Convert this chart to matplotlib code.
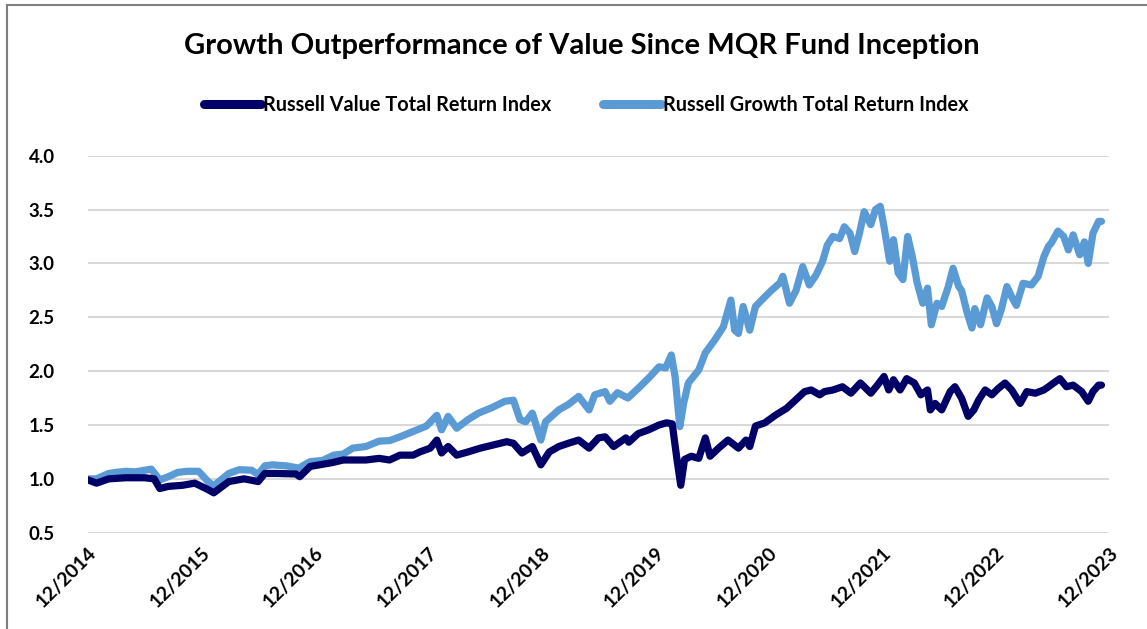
import matplotlib
matplotlib.use("Agg")
import matplotlib.pyplot as plt
from matplotlib.patches import Rectangle

plt.rcParams['font.family'] = ['Lato', 'DejaVu Sans']
plt.rcParams['font.weight'] = 'bold'

# months since 12/2014 and index level
growth_m = [0, 0.9, 2.2, 3, 4, 5, 6, 6.7, 7.6, 8.5, 9.5, 10.5, 11.7, 12.7, 13.3, 14.9, 16, 17.3,
            18, 18.7, 19.5, 21, 22.3, 23.5, 24.8, 26, 27, 28, 29.4, 30.8, 31.9, 33, 34.4, 35.8,
            36.9, 37.4, 38.1, 39, 40.2, 41.3, 42.7, 44.1, 45, 45.7, 46.3, 47, 47.9, 48.4, 49.8,
            50.8, 51.9, 53, 53.6, 54.7, 55.2, 56, 57.1, 58.2, 59.3, 60.4, 61.1, 61.7, 62.1, 62.6,
            63, 63.5, 64.6, 65.3, 66.3, 67.2, 68, 68.4, 68.8, 69.3, 70, 70.6, 71.6, 72.3, 73.2,
            73.5, 74.2, 74.9, 75.6, 76.3, 77, 77.7, 78.2, 78.8, 79.5, 80, 80.6, 81.1, 81.6, 82.1,
            82.8, 83.3, 83.8, 84.2, 84.8, 85.2, 85.7, 86.2, 86.7, 87.2, 87.7, 88.3, 88.8, 89.2,
            89.8, 90.3, 91, 91.5, 92.1, 92.4, 93, 93.5, 93.8, 94.4, 95.1, 95.6, 96.1, 96.6, 97.2,
            97.7, 98.2, 98.9, 99.8, 100.5, 101.1, 101.6, 101.9, 102.6, 103.2, 103.7, 104.2,
            104.9, 105.4, 105.8, 106.3, 106.9, 107.2]
growth = [1.00, 1.00, 1.05, 1.06, 1.07, 1.065, 1.08, 1.09, 0.99, 1.02, 1.06, 1.07, 1.07, 0.975,
          0.935, 1.05, 1.085, 1.08, 1.04, 1.12, 1.13, 1.12, 1.10, 1.16, 1.17, 1.22, 1.23, 1.285,
          1.30, 1.35, 1.355, 1.39, 1.44, 1.49, 1.59, 1.455, 1.58, 1.47, 1.55, 1.61, 1.66, 1.72,
          1.73, 1.55, 1.53, 1.61, 1.36, 1.53, 1.64, 1.69, 1.765, 1.64, 1.78, 1.81, 1.72, 1.80,
          1.75, 1.84, 1.935, 2.04, 2.03, 2.15, 1.95, 1.485, 1.70, 1.89, 2.01, 2.17, 2.29, 2.41,
          2.66, 2.38, 2.35, 2.60, 2.38, 2.60, 2.69, 2.75, 2.82, 2.88, 2.63, 2.75, 2.97, 2.80,
          2.89, 3.02, 3.17, 3.25, 3.23, 3.34, 3.28, 3.11, 3.28, 3.48, 3.36, 3.50, 3.53, 3.34,
          3.02, 3.22, 2.91, 2.85, 3.25, 3.06, 2.82, 2.63, 2.77, 2.43, 2.63, 2.60, 2.785, 2.955,
          2.785, 2.75, 2.54, 2.40, 2.58, 2.43, 2.68, 2.60, 2.44, 2.57, 2.785, 2.69, 2.61, 2.815,
          2.80, 2.88, 3.06, 3.16, 3.19, 3.30, 3.25, 3.125, 3.265, 3.08, 3.20, 3.00, 3.28, 3.39,
          3.39]

value_m = [0, 0.9, 2.2, 4, 6, 7, 7.6, 8.5, 10, 11.3, 12.7, 13.3, 14.9, 16.5, 18, 18.7, 20, 22,
           22.4, 23.5, 25.8, 27, 29.4, 30.8, 31.9, 33, 34.4, 35.1, 36.2, 36.9, 37.4, 38.1, 39,
           40.2, 41.5, 42.9, 44.3, 45, 45.9, 47, 47.9, 48.8, 49.8, 50.8, 51.9, 53, 54, 54.7,
           55.6, 56.9, 57.2, 58.2, 59.3, 60.4, 61.2, 61.8, 62.3, 62.7, 63.1, 63.8, 64.6, 65.3,
           65.8, 66.7, 67.7, 68.8, 69.6, 70, 70.6, 71.6, 72.7, 73.9, 74.7, 75.8, 76.5, 77.4,
           77.9, 78.8, 79.8, 80.7, 81.7, 82.8, 83.5, 84.2, 84.7, 85.2, 85.9, 86.6, 87.4, 88.1,
           88.8, 89.1, 89.6, 90.3, 91.2, 91.7, 92.4, 93.1, 93.7, 94.2, 94.9, 95.6, 96.3, 97,
           97.7, 98.6, 99.3, 100.2, 101.1, 101.6, 102.3, 102.8, 103.5, 104.2, 105.1, 105.8,
           106.3, 106.9, 107.2]
value = [0.99, 0.96, 1.00, 1.01, 1.01, 1.00, 0.91, 0.93, 0.94, 0.96, 0.90, 0.87, 0.975, 1.00,
         0.975, 1.05, 1.05, 1.045, 1.02, 1.115, 1.15, 1.175, 1.175, 1.19, 1.175, 1.22, 1.22,
         1.25, 1.285, 1.36, 1.24, 1.30, 1.22, 1.25, 1.285, 1.315, 1.345, 1.33, 1.24, 1.30,
         1.13, 1.25, 1.30, 1.33, 1.36, 1.285, 1.38, 1.39, 1.30, 1.38, 1.34, 1.42, 1.455, 1.50,
         1.52, 1.51, 1.18, 0.94, 1.18, 1.21, 1.19, 1.38, 1.21, 1.285, 1.36, 1.285, 1.36, 1.30,
         1.49, 1.52, 1.59, 1.655, 1.72, 1.81, 1.825, 1.78, 1.81, 1.825, 1.855, 1.795, 1.89,
         1.795, 1.87, 1.95, 1.825, 1.92, 1.825, 1.93, 1.89, 1.78, 1.825, 1.64, 1.70, 1.64,
         1.81, 1.855, 1.75, 1.58, 1.64, 1.73, 1.825, 1.78, 1.84, 1.89, 1.825, 1.70, 1.81,
         1.795, 1.825, 1.855, 1.90, 1.93, 1.855, 1.87, 1.81, 1.72, 1.81, 1.87, 1.87]

tick_months = [0, 12, 24, 36, 48, 60, 72, 84, 96, 108]
tick_labels = ['12/2014', '12/2015', '12/2016', '12/2017', '12/2018',
               '12/2019', '12/2020', '12/2021', '12/2022', '12/2023']
y_ticks = [0.5, 1.0, 1.5, 2.0, 2.5, 3.0, 3.5, 4.0]

fig = plt.figure(figsize=(11.47, 6.29), dpi=100)
ax = fig.add_axes([0.0767, 0.1531, 0.8902, 0.5994])

ax.plot(value_m, value, color='#000066', lw=5.2, solid_joinstyle='round',
        solid_capstyle='round', label='Russell Value Total Return Index', zorder=3)
ax.plot(growth_m, growth, color='#5B9BD5', lw=5.2, solid_joinstyle='round',
        solid_capstyle='round', label='Russell Growth Total Return Index', zorder=2)

ax.set_xlim(0, 108)
ax.set_ylim(0.5, 4.0)
ax.set_yticks(y_ticks)
ax.set_yticklabels(['%.1f' % t for t in y_ticks], fontsize=13.5, fontweight='bold')
ax.set_xticks(tick_months)
ax.set_xticklabels(tick_labels, rotation=45, ha='right', rotation_mode='anchor',
                   fontsize=14, fontweight='bold')
ax.tick_params(axis='both', length=0)
ax.tick_params(axis='y', pad=24)
ax.tick_params(axis='x', pad=8)
ax.grid(axis='y', color='#d9d9d9', lw=1.5)
ax.set_axisbelow(True)
for s in ax.spines.values():
    s.set_visible(False)

fig.text(0.507, 0.927, 'Growth Outperformance of Value Since MQR Fund Inception',
         ha='center', va='center', fontsize=21, fontweight='bold')
leg = fig.legend(loc='center', bbox_to_anchor=(0.511, 0.833), ncol=2, frameon=False,
                 handlelength=2.9, columnspacing=2.6, handletextpad=0.1,
                 prop={'weight': 'bold', 'size': 14.3})
for h in leg.get_lines():
    h.set_linewidth(6.5)
    h.set_solid_capstyle('round')

fig.patches.append(Rectangle((7 / 1147, -0.05), 1.1, 1 - 5 / 629 + 0.05,
                             transform=fig.transFigure, fill=False,
                             edgecolor='#7f7f7f', lw=1.5))

fig.savefig('out.png', dpi=100)
